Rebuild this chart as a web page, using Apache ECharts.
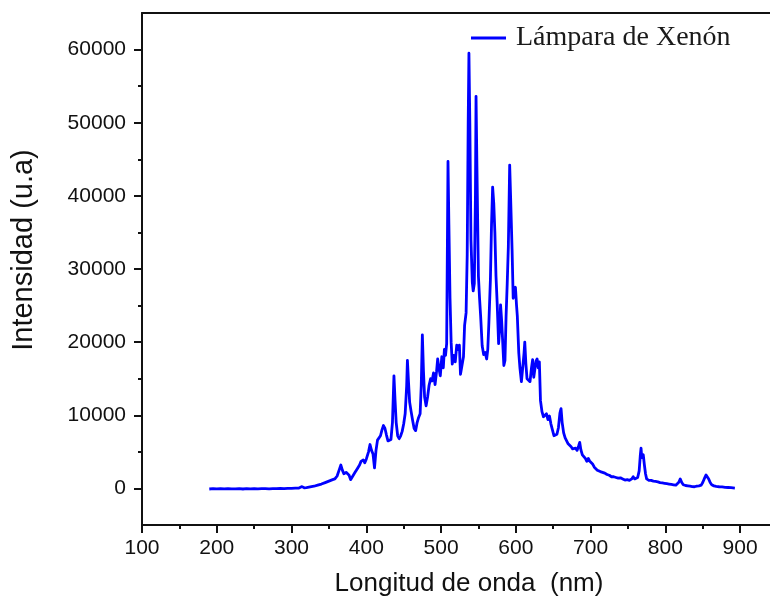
<!DOCTYPE html>
<html>
<head>
<meta charset="utf-8">
<script src="https://cdn.jsdelivr.net/npm/echarts@6/dist/echarts.min.js"></script>
<style>
  html, body { margin: 0; padding: 0; background: #fff; }
  #chart { width: 770px; height: 602px; }
</style>
</head>
<body>
<div id="chart"></div>
<script>
// Emission spectrum of the xenon lamp: wavelength (nm) and intensity (a.u.)
const wavelength = [
  190, 195, 200, 205, 210, 215, 220, 225, 230, 235, 240, 245, 250, 255, 260, 265, 270, 275, 280, 285,
  290, 295, 300, 305, 310, 314, 317, 320, 325, 330, 335, 340, 345, 350, 355, 358, 361, 364, 366, 368,
  370, 373, 375, 377, 379, 382, 385, 388, 391, 393, 396, 398, 400, 403, 405, 407, 409, 411, 413, 415,
  417, 419, 421, 423, 425, 427, 429, 431, 433, 435, 437, 438.5, 440, 442, 444, 446, 448, 450, 452, 454,
  455, 456.5, 458, 460, 462, 464, 466, 468, 470, 472, 473.5, 475, 476.5, 478, 480, 482, 484, 486, 488, 490,
  492, 494, 495.5, 497, 499, 501, 503, 504.5, 506, 507.5, 509.3, 510.5, 512, 513.5, 515, 517, 519, 521, 523, 524.5,
  526, 528, 530, 531.5, 533.5, 535, 536.3, 537.3, 538.5, 540, 541.8, 543, 544.5, 546, 546.8, 548, 550, 551.5, 553, 555,
  557, 559, 561, 562.5, 564, 566, 567.5, 569, 570.5, 572, 573.5, 575, 577, 578.5, 579.6, 581, 582, 584, 585.5, 587,
  588.5, 590, 591.8, 593, 595, 596.5, 598, 599.5, 601, 602, 604, 605.5, 607.5, 609.5, 611, 612, 613.5, 615, 617, 619,
  621, 622.5, 624, 625.5, 627, 628.5, 630, 631.5, 633, 635, 637, 639, 641, 643, 645, 647, 649, 651, 653, 655,
  657, 659, 660.5, 662, 664, 666, 668, 670, 672, 674, 676, 678, 680, 682, 684, 685.5, 687, 689, 691, 693,
  695, 697, 699, 701, 703, 705, 707, 709, 711, 713, 716, 719, 722, 725, 728, 731, 734, 737, 740, 743,
  746, 749, 752, 755, 757, 759, 761, 763, 765, 766.5, 767.5, 768.5, 769.5, 770.5, 772, 773.5, 775, 778, 781, 784,
  787, 790, 793, 796, 799, 802, 805, 808, 811, 814, 816, 818, 820, 822, 824, 827, 830, 833, 836, 839,
  842, 845, 848, 850, 852, 854.5, 856, 858, 860, 862, 865, 868, 872, 876, 880, 884, 888, 893
];
const intensity = [
  -80, -40, -60, -30, -70, -20, -50, -60, -30, -80, -40, -50, -20, -60, -40, -30, -50, -20, -40, -10,
  -30, 0, 20, 40, 60, 250, 80, 100, 200, 300, 450, 600, 800, 1000, 1200, 1300, 1700, 2600, 3200, 2500,
  2000, 2200, 2400, 1800, 1200, 1700, 2200, 2700, 3200, 3700, 3900, 3500, 4000, 5000, 6000, 5200, 4700, 2800, 5200, 6600,
  6800, 7200, 8000, 8600, 8200, 7300, 6500, 6400, 6700, 9000, 15400, 12000, 9000, 7200, 6800, 7200, 7800, 8800, 10200, 14000,
  17500, 14500, 11800, 10500, 9300, 8200, 7900, 9000, 9700, 10200, 14000, 21000, 16000, 12500, 11300, 12500, 14100, 15000, 14700, 15800,
  14200, 16000, 17700, 16500, 15400, 18000, 16500, 19000, 18200, 19800, 44700, 36000, 26000, 20000, 17000, 18200, 17300, 19600, 19000, 19600,
  15600, 15500, 18000, 22300, 24000, 32000, 50000, 59500, 50000, 34000, 28200, 27000, 28000, 40000, 53600, 44000, 29000, 26000, 23500, 19500,
  18300, 18600, 17700, 19000, 22700, 28500, 36000, 41200, 39000, 35000, 29000, 25500, 19800, 22000, 25100, 23000, 21000, 16800, 17500, 23600,
  28000, 33000, 44200, 40000, 32700, 26000, 25800, 27500, 25000, 23600, 18500, 16500, 14600, 16800, 18500, 20000, 17000, 15000, 15200, 14600,
  16500, 17600, 15200, 15400, 17400, 17700, 16500, 17300, 12000, 10500, 9800, 9600, 10200, 9400, 9900, 8800, 8000, 7200, 7000, 7400,
  8300, 10300, 10900, 9000, 7600, 6900, 6500, 6100, 5900, 5700, 5400, 5300, 5500, 5200, 5800, 6300, 5300, 4600, 4400, 4100,
  3700, 4100, 3700, 3800, 3300, 2900, 2800, 2500, 2400, 2300, 2200, 2100, 1900, 1800, 1600, 1600, 1500, 1400, 1450, 1300,
  1150, 1200, 1100, 1300, 1600, 1300, 1150, 1500, 2400, 4500, 5500, 4200, 4000, 4600, 3200, 2000, 1300, 1100, 1100, 1000,
  950, 900, 800, 750, 700, 650, 600, 550, 500, 450, 500, 850, 1300, 800, 500, 400, 350, 300, 250, 230,
  300, 350, 450, 800, 1300, 1850, 1800, 1300, 800, 500, 350, 280, 230, 200, 150, 130, 100, 50
];

// Axis ticks and labels
const xMajorTicks = [100, 200, 300, 400, 500, 600, 700, 800, 900];
const xMinorTicks = [150, 250, 350, 450, 550, 650, 750, 850];
const yMajorTicks = [0, 10000, 20000, 30000, 40000, 50000, 60000];
const yMinorTicks = [5000, 15000, 25000, 35000, 45000, 55000];

const seriesName = 'Lámpara de Xenón';
const xTitle = 'Longitud de onda  (nm)';
const yTitle = 'Intensidad (u.a)';

const X_MIN = 100, X_MAX = 940, Y_MIN = -5000, Y_MAX = 65000;
const INK = '#111';
const LINE_BLUE = '#0000ff';
const plainNumber = (v) => String(v);
const labelFont = { fontFamily: '"Liberation Sans", Arial, sans-serif', fontSize: 21, color: INK };

const points = wavelength.map((w, i) => [w, intensity[i]]);

const chart = echarts.init(document.getElementById('chart'), null, { renderer: 'canvas' });

chart.setOption({
  animation: false,
  backgroundColor: '#fff',
  grid: { left: 142, right: 0, top: 13, bottom: 76, containLabel: false },
  legend: {
    data: [seriesName],
    left: 471,
    top: 24,
    padding: 0,
    icon: 'rect',
    itemWidth: 35,
    itemHeight: 3,
    itemStyle: { color: LINE_BLUE },
    textStyle: {
      fontFamily: '"Liberation Serif", "Times New Roman", serif',
      fontSize: 28,
      color: '#1a1a1a',
      padding: [0, 0, 0, 5]
    }
  },
  xAxis: [
    {
      type: 'value', min: X_MIN, max: X_MAX, position: 'bottom',
      name: xTitle, nameLocation: 'middle', nameGap: 46,
      nameTextStyle: { fontFamily: '"Liberation Sans", Arial, sans-serif', fontSize: 26, color: INK, padding: [0, 0, 0, 26] },
      axisLine: { show: true, onZero: false, lineStyle: { color: INK, width: 2 } },
      axisTick: { show: true, customValues: xMajorTicks, length: 8, lineStyle: { color: INK, width: 2 } },
      axisLabel: Object.assign({ customValues: xMajorTicks, margin: 13, formatter: plainNumber }, labelFont),
      splitLine: { show: false }
    },
    {
      type: 'value', min: X_MIN, max: X_MAX, position: 'bottom',
      axisLine: { show: false, onZero: false },
      axisTick: { show: true, customValues: xMinorTicks, length: 4, lineStyle: { color: INK, width: 2 } },
      axisLabel: { show: false },
      splitLine: { show: false }
    },
    {
      type: 'value', min: X_MIN, max: X_MAX, position: 'top',
      axisLine: { show: true, onZero: false, lineStyle: { color: INK, width: 2 } },
      axisTick: { show: false },
      axisLabel: { show: false },
      splitLine: { show: false }
    }
  ],
  yAxis: [
    {
      type: 'value', min: Y_MIN, max: Y_MAX, position: 'left',
      name: yTitle, nameLocation: 'middle', nameRotate: 90, nameGap: 104,
      nameTextStyle: { fontFamily: '"Liberation Sans", Arial, sans-serif', fontSize: 29, color: INK, padding: [0, 0, 0, 38] },
      axisLine: { show: true, onZero: false, lineStyle: { color: INK, width: 2 } },
      axisTick: { show: true, customValues: yMajorTicks, length: 8, lineStyle: { color: INK, width: 2 } },
      axisLabel: Object.assign({ customValues: yMajorTicks, margin: 16, formatter: plainNumber }, labelFont),
      splitLine: { show: false }
    },
    {
      type: 'value', min: Y_MIN, max: Y_MAX, position: 'left',
      axisLine: { show: false, onZero: false },
      axisTick: { show: true, customValues: yMinorTicks, length: 4, lineStyle: { color: INK, width: 2 } },
      axisLabel: { show: false },
      splitLine: { show: false }
    }
  ],
  series: [
    {
      name: seriesName,
      type: 'line',
      xAxisIndex: 0,
      yAxisIndex: 0,
      data: points,
      showSymbol: false,
      symbol: 'none',
      smooth: false,
      lineStyle: { color: LINE_BLUE, width: 2.8, join: 'round' },
      itemStyle: { color: LINE_BLUE }
    }
  ]
});
</script>
</body>
</html>
